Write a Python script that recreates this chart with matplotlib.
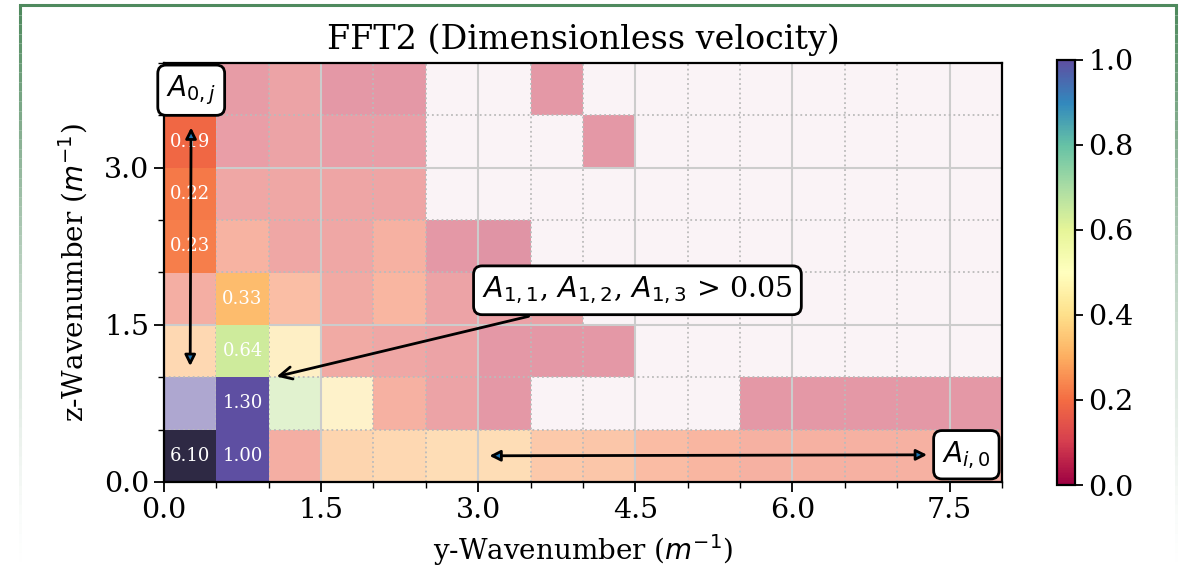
import numpy as np
import matplotlib
matplotlib.use("Agg")
import matplotlib.pyplot as plt
from matplotlib.collections import LineCollection
from matplotlib.ticker import MultipleLocator

plt.rcParams["font.family"] = ["DejaVu Serif"]

# amplitudes, one list per z-row (bottom row first), 16 y-wavenumbers each
row0 = [6.10, 1.00, 0.17, 0.30, 0.31, 0.33, 0.33, 0.26, 0.25, 0.22, 0.20, 0.18, 0.18, 0.18, 0.18, 0.17]
row1 = [1.10, 1.30, 0.66, 0.42, 0.18, 0.12, 0.08, 0.00, 0.00, 0.00, 0.00, 0.08, 0.08, 0.08, 0.08, 0.08]
row2 = [0.31, 0.64, 0.40, 0.15, 0.14, 0.12, 0.08, 0.08, 0.08, 0.00, 0.00, 0.00, 0.00, 0.00, 0.00, 0.00]
row3 = [0.17, 0.33, 0.23, 0.15, 0.20, 0.12, 0.11, 0.11, 0.00, 0.00, 0.00, 0.00, 0.00, 0.00, 0.00, 0.00]
row4 = [0.23, 0.19, 0.14, 0.14, 0.18, 0.08, 0.07, 0.00, 0.00, 0.00, 0.00, 0.00, 0.00, 0.00, 0.00, 0.00]
row5 = [0.22, 0.14, 0.14, 0.13, 0.13, 0.00, 0.00, 0.00, 0.00, 0.00, 0.00, 0.00, 0.00, 0.00, 0.00, 0.00]
row6 = [0.19, 0.10, 0.12, 0.10, 0.10, 0.00, 0.00, 0.00, 0.08, 0.00, 0.00, 0.00, 0.00, 0.00, 0.00, 0.00]
row7 = [0.17, 0.09, 0.12, 0.08, 0.08, 0.00, 0.00, 0.08, 0.00, 0.00, 0.00, 0.00, 0.00, 0.00, 0.00, 0.00]

# highlighted cells: (column, row) -> value
hl_cols = [0, 1, 1, 1, 1, 0, 0, 0]
hl_rows = [0, 0, 1, 2, 3, 4, 5, 6]
hl_vals = [6.10, 1.00, 1.30, 0.64, 0.33, 0.23, 0.22, 0.19]

threshold = 0.05

amp = np.array([row0, row1, row2, row3, row4, row5, row6, row7])
ny, nx = amp.shape
dk = 0.5
extent = (0, nx * dk, 0, ny * dk)

hl = np.full(amp.shape, np.nan)
hl[hl_rows, hl_cols] = hl_vals

fig = plt.figure(figsize=(11.83, 5.71), dpi=100)
ax = fig.add_axes([0.1378, 0.1559, 0.7100, 0.7338])
cax = fig.add_axes([0.8935, 0.1506, 0.0152, 0.7444])

cmap = plt.get_cmap("Spectral")
alpha = np.where(amp > threshold, 0.5, 0.05)
ax.imshow(np.clip(amp, 0, 1), cmap=cmap, vmin=0, vmax=1, origin="lower",
          extent=extent, alpha=alpha, interpolation="nearest", zorder=0)

cmap_hl = cmap.with_extremes(over="#2e2944")
shown = np.where(hl > 2, hl, np.clip(hl, 0, 1))
ax.imshow(np.ma.masked_invalid(shown), cmap=cmap_hl, vmin=0, vmax=1, origin="lower",
          extent=extent, interpolation="nearest", zorder=2)

for c, r, v in zip(hl_cols, hl_rows, hl_vals):
    ax.text((c + 0.5) * dk, (r + 0.5) * dk, f"{v:.2f}", color="white",
            ha="center", va="center", fontsize=13, zorder=3)

ax.set_xlim(0, nx * dk)
ax.set_ylim(0, ny * dk)
ax.set_aspect("equal")
ax.xaxis.set_major_locator(MultipleLocator(1.5))
ax.yaxis.set_major_locator(MultipleLocator(1.5))
ax.xaxis.set_minor_locator(MultipleLocator(0.5))
ax.yaxis.set_minor_locator(MultipleLocator(0.5))
ax.grid(which="major", color="#cccccc", lw=1.5, ls="-", zorder=1)
ax.grid(which="minor", color="#bbbbbb", lw=1.3, ls=":", zorder=1)
ax.tick_params(which="major", length=7, width=1.3, labelsize=20.5)
ax.tick_params(which="minor", length=4, width=1.0)
for s in ax.spines.values():
    s.set_linewidth(1.6)

ax.set_title("FFT2 (Dimensionless velocity)", fontsize=24, pad=10)
ax.set_xlabel("y-Wavenumber ($m^{-1}$)", fontsize=20, labelpad=6)
ax.set_ylabel("z-Wavenumber ($m^{-1}$)", fontsize=20, labelpad=10)

box = dict(boxstyle="round,pad=0.3", fc="white", ec="black", lw=2)
ax.annotate("$A_{0,j}$", xy=(0.25, 1.08), xytext=(0.26, 3.74), fontsize=20,
            ha="center", va="center", bbox=box, zorder=5, annotation_clip=False,
            arrowprops=dict(arrowstyle="<|-|>", fc="#1f77b4", ec="black", lw=2,
                            mutation_scale=16, shrinkA=8))
ax.annotate("$A_{i,0}$", xy=(3.08, 0.25), xytext=(7.66, 0.26), fontsize=20,
            ha="center", va="center", bbox=box, zorder=5, annotation_clip=False,
            arrowprops=dict(arrowstyle="<|-|>", fc="#1f77b4", ec="black", lw=2,
                            mutation_scale=16, shrinkA=4))
ax.annotate("$A_{1,1}$, $A_{1,2}$, $A_{1,3}$ > 0.05", xy=(1.05, 1.0), xytext=(4.52, 1.83),
            fontsize=20.5, ha="center", va="center", bbox=box, zorder=5,
            arrowprops=dict(arrowstyle="->", color="black", lw=2, mutation_scale=22))

sm = plt.cm.ScalarMappable(norm=plt.Normalize(0, 1), cmap=cmap)
cb = fig.colorbar(sm, cax=cax, ticks=np.arange(0, 1.01, 0.2))
cb.ax.tick_params(labelsize=20.5, length=6, width=1.3)
cb.outline.set_linewidth(1.6)

# green frame around the figure, fading down the sides
green = "#4f8a5e"
x0, x1, ytop = 20 / 1183, 1176 / 1183, 1 - 5 / 571
fig.add_artist(plt.Line2D([x0, x1], [ytop, ytop], color=green, lw=2.2,
                          transform=fig.transFigure))
ys = np.linspace(ytop, 0.0, 60)
for xv in (x0, x1):
    segs = [[(xv, ys[i]), (xv, ys[i + 1])] for i in range(len(ys) - 1)]
    alphas = np.linspace(1, 0, len(segs)) ** 1.5
    cols = [matplotlib.colors.to_rgba(green, a) for a in alphas]
    fig.add_artist(LineCollection(segs, colors=cols, lw=2.2, transform=fig.transFigure))

fig.savefig("out.png", dpi=100)
